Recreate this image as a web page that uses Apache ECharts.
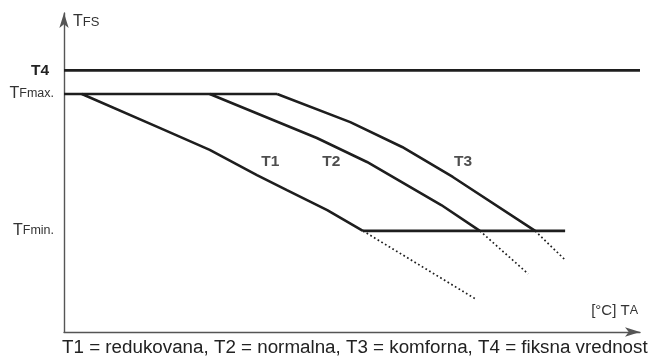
<!DOCTYPE html>
<html>
<head>
<meta charset="utf-8">
<script src="https://cdn.jsdelivr.net/npm/echarts@6/dist/echarts.min.js"></script>
<style>html,body{margin:0;padding:0;background:#fff}#c{width:652px;height:359px}</style>
</head>
<body>
<div id="c"></div>
<script>
// Curve data (abstract units: x 0..100 outdoor axis, y 0..100 flow temperature)
const t4Line = [[0, 82], [100, 82]];
const tfMaxLine = [[0, 74.6], [37.0, 74.6]];
const tfMinLine = [[51.9, 31.7], [87.0, 31.7]];
const t1Curve = [[3.1, 74.6], [16.7, 63.9], [25.3, 57.1], [33.5, 49.2], [38.7, 44.5], [45.7, 38.2], [51.9, 31.7]];
const t1Dotted = [[51.9, 31.7], [71.5, 10.3]];
const t2Curve = [[25.3, 74.6], [43.9, 60.8], [52.6, 53.3], [65.5, 39.8], [72.2, 31.7]];
const t2Dotted = [[72.2, 31.7], [80.6, 18.2]];
const t3Curve = [[37.0, 74.6], [49.7, 65.8], [58.7, 58.0], [67.5, 48.6], [81.8, 31.7]];
const t3Dotted = [[81.8, 31.7], [87.0, 22.6]];
const curveLabels = [{ name: 'T1', value: [35.8, 53.3] }, { name: 'T2', value: [46.4, 53.3] }, { name: 'T3', value: [69.3, 53.3] }];
const yTickValues = [31.7, 74.6, 82];
const yTickLabels = { '31.7': '{t|T}{s|Fmin.}', '74.6': '{t|T}{s|Fmax.}', '82': '{b|T4}' };
const footnote = 'T1 = redukovana, T2 = normalna, T3 = komforna, T4 = fiksna vrednost';

const FONT = '"Liberation Sans", Arial, sans-serif';
const LINE = '#1e1e1e';
function solid(data) {
  return { type: 'line', data: data, symbol: 'none', silent: true, animation: false,
    lineStyle: { color: LINE, width: 2.6 } };
}
function dotted(data) {
  return { type: 'line', data: data, symbol: 'none', silent: true, animation: false,
    lineStyle: { color: LINE, width: 1.7, type: [1.7, 2.6] } };
}
const chart = echarts.init(document.getElementById('c'));
chart.setOption({
  animation: false,
  grid: { left: 64, right: 12, top: 13, bottom: 27 },
  title: { text: footnote, left: 62, top: 337, padding: 0,
    textStyle: { fontFamily: FONT, fontSize: 18.8, fontWeight: 'normal', color: '#222', lineHeight: 22 } },
  xAxis: {
    type: 'value', min: 0, max: 100,
    name: '{t|[°C] T}{s|A}', nameLocation: 'end', nameGap: 0,
    nameTextStyle: { align: 'right', verticalAlign: 'bottom', padding: [0, 2, 14, 0],
      rich: { t: { fontFamily: FONT, fontSize: 15, color: '#333' }, s: { fontFamily: FONT, fontSize: 12.5, color: '#333' } } },
    axisLine: { lineStyle: { color: '#555', width: 1.4 }, symbol: ['none', 'arrow'], symbolSize: [7, 15] },
    axisTick: { show: false }, axisLabel: { show: false }, splitLine: { show: false }
  },
  yAxis: {
    type: 'value', min: 0, max: 100,
    name: '{t|T}{s|FS}', nameLocation: 'end', nameGap: -9,
    nameTextStyle: { align: 'left', verticalAlign: 'middle', padding: [0, 0, 0, 9],
      rich: { t: { fontFamily: FONT, fontSize: 16, color: '#333' }, s: { fontFamily: FONT, fontSize: 13, color: '#333' } } },
    axisLine: { show: true, lineStyle: { color: '#555', width: 1.4 }, symbol: ['none', 'arrow'], symbolSize: [7, 15] },
    axisTick: { show: false }, splitLine: { show: false },
    axisLabel: {
      show: true, customValues: yTickValues, margin: 10,
      formatter: function (v) { return yTickLabels[String(v)] || ''; },
      rich: {
        t: { fontFamily: FONT, fontSize: 16, color: '#333' },
        s: { fontFamily: FONT, fontSize: 12.5, color: '#333' },
        b: { fontFamily: FONT, fontSize: 15.5, fontWeight: 'bold', color: '#222', padding: [0, 5, 0, 0] }
      }
    }
  },
  series: [
    solid(t4Line), solid(tfMaxLine), solid(tfMinLine),
    solid(t1Curve), dotted(t1Dotted),
    solid(t2Curve), dotted(t2Dotted),
    solid(t3Curve), dotted(t3Dotted),
    { type: 'scatter', data: curveLabels, symbolSize: 1, itemStyle: { color: 'rgba(0,0,0,0)' }, silent: true,
      label: { show: true, position: 'inside', formatter: '{b}', fontFamily: FONT, fontSize: 15.5, fontWeight: 'bold', color: '#222' } }
  ]
});
</script>
</body>
</html>
